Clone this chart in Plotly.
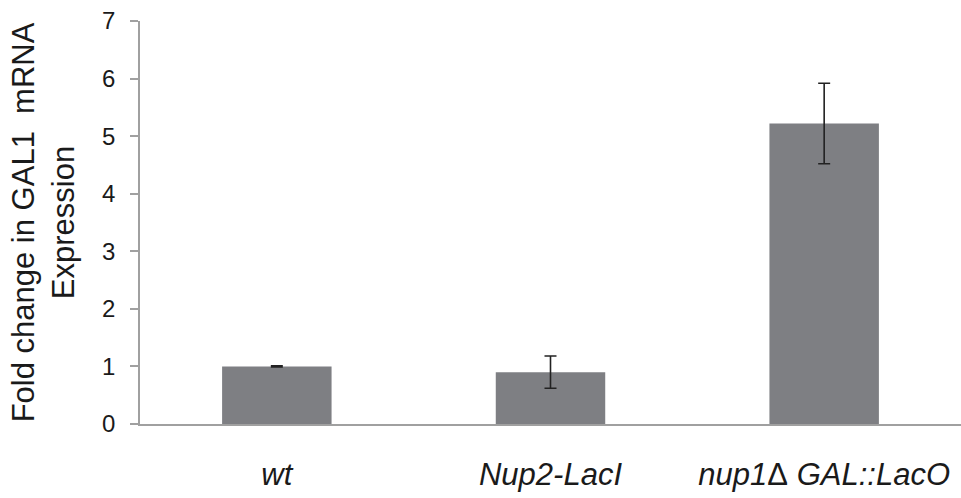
import plotly.graph_objects as go

categories = ["<i>wt</i>", "<i>Nup2-LacI</i>", "<i>nup1</i>Δ<i> GAL::LacO</i>"]
values = [1.0, 0.90, 5.22]
errors = [0.01, 0.28, 0.70]
y_ticks = [0, 1, 2, 3, 4, 5, 6, 7]

fig = go.Figure(go.Bar(
    x=categories, y=values,
    marker=dict(color="#7e7f83", line=dict(width=0)),
    error_y=dict(type="data", array=errors, visible=True, color="#222222", thickness=1.6, width=6),
))

font = "Liberation Sans, Arial, sans-serif"
fig.update_layout(
    width=961, height=498,
    margin=dict(l=140, r=0, t=21, b=74),
    paper_bgcolor="white", plot_bgcolor="white",
    bargap=0.6, showlegend=False,
    font=dict(family=font, color="#1a1a1a"),
)
fig.update_yaxes(
    range=[0, 7], tickvals=y_ticks, showgrid=False, zeroline=False,
    showline=True, linecolor="#a0a0a0", linewidth=1.5,
    ticks="outside", ticklen=8, tickcolor="#a0a0a0", tickwidth=1.5,
    tickfont=dict(size=24, family=font, color="#1a1a1a"), ticklabelstandoff=10,
    title=dict(text="Fold change in GAL1  mRNA<br>Expression", font=dict(size=31, family=font, color="#1a1a1a"), standoff=18),
)
fig.update_xaxes(
    showgrid=False, zeroline=False, showline=True, linecolor="#a0a0a0", linewidth=1.5,
    ticks="", tickfont=dict(size=31, family=font, color="#1a1a1a"), ticklabelstandoff=22,
)
fig.write_html("out.html")
